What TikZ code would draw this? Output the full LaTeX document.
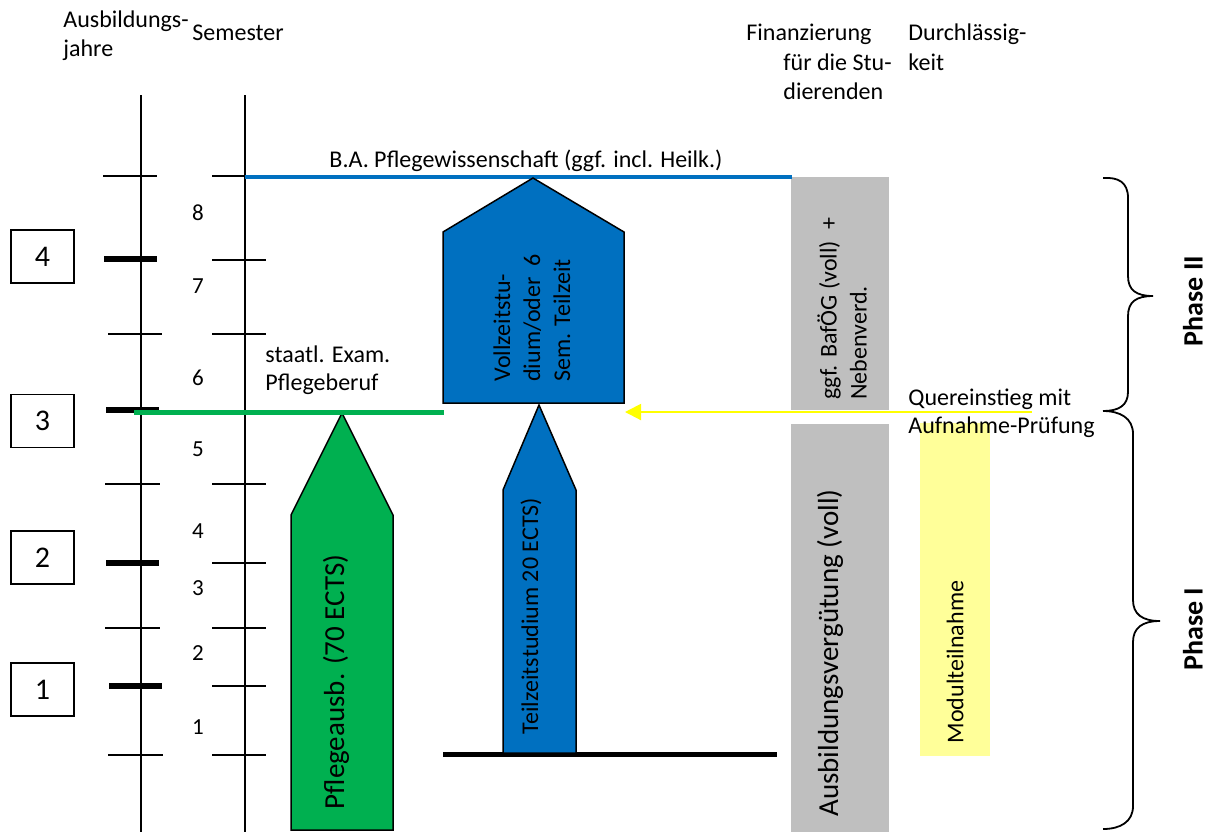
\documentclass[tikz,border=0pt]{standalone}
\usepackage{fontspec}
\setmainfont{Carlito}
\usetikzlibrary{arrows.meta}
\definecolor{bblue}{HTML}{0070C0}
\definecolor{ggreen}{HTML}{00B050}
\definecolor{ggrey}{HTML}{BFBFBF}
\definecolor{yyellow}{HTML}{FFFF00}
\definecolor{lyellow}{HTML}{FFFF99}
\begin{document}
\begin{tikzpicture}[x=0.5pt,y=-0.5pt,
  txt/.style={font=\fontsize{12}{15}\selectfont, inner sep=0pt},
  bigtxt/.style={font=\fontsize{14.5}{17}\selectfont, inner sep=0pt},
  numtxt/.style={font=\fontsize{11.5}{13}\selectfont, inner sep=0pt},
  phasetxt/.style={font=\fontsize{14}{16}\selectfont\bfseries, inner sep=0pt, rotate=90},
  yearbox/.style={draw, line width=0.75pt, minimum width=31.5pt, minimum height=26.5pt, inner sep=0pt, font=\fontsize{15}{17}\selectfont},
  axisline/.style={line width=1pt},
  thintick/.style={line width=0.75pt},
  thicktick/.style={line width=3pt},
  arrowshape/.style={draw=black, line width=0.75pt, line join=miter},
  bracepath/.style={line width=0.9pt},
  ]
\useasboundingbox (0,0) rectangle (1224,832);

% headers
\node[txt,anchor=base west] (ausb1) at (63,27) {Ausbildungs-};
\node[txt,anchor=base west] (ausb2) at (63,56) {jahre};
\node[txt,anchor=base west] (sem) at (192,40) {Semester};
\node[txt,anchor=base west] (fin1) at (746,40) {Finanzierung};
\node[txt,anchor=base west] (fin2) at (783,70) {für die Stu-};
\node[txt,anchor=base west] (fin3) at (783,99) {dierenden};
\node[txt,anchor=base west] (dur1) at (908,40) {Durchlässig-};
\node[txt,anchor=base west] (dur2) at (908,70) {keit};

% grey and yellow columns
\fill[ggrey] (791,177) rectangle (889,410);
\fill[ggrey] (791,424) rectangle (889,832);
\fill[lyellow] (920,423) rectangle (990,756);

% axes
\coordinate (yaTop) at (141,95); \coordinate (yaBot) at (141,832);
\coordinate (saTop) at (245,95); \coordinate (saBot) at (245,832);
\draw[axisline] (yaTop) -- (yaBot);
\draw[axisline] (saTop) -- (saBot);

% year ticks
\foreach \y/\a/\b in {176/103/157, 334/108/162, 484/105/160, 628/105/160, 755/108/163}
  \draw[thintick] (\a,\y) -- (\b,\y);
\foreach \y/\a/\b in {259/104/157, 410/106/159, 563/106/159, 686/109/162}
  \draw[thicktick] (\a,\y) -- (\b,\y);
% semester ticks
\draw[thintick] (212,176) -- (245,176);
\foreach \y in {260, 334, 412, 484, 563, 628, 686, 755}
  \draw[thintick] (212,\y) -- (266,\y);

% semester numbers
\foreach \n/\y in {8/213, 7/286, 6/378, 5/449, 4/531, 3/588, 2/653, 1/727}
  \node[numtxt] (s\n) at (198,\y) {\n};

% year boxes
\node[yearbox] (y4) at (42.5,256.5) {4};
\node[yearbox] (y3) at (42.5,421) {3};
\node[yearbox] (y2) at (42.5,557.5) {2};
\node[yearbox] (y1) at (42.5,689.5) {1};

% B.A. line
\coordinate (baL) at (245,177); \coordinate (baR) at (792,177);
\draw[line width=2pt, bblue] (baL) -- (baR);
\node[txt,anchor=base] (ba) at (526,167) {B.A. Pflegewissenschaft (ggf. incl. Heilk.)};

% bottom black line
\coordinate (blL) at (443,754); \coordinate (blR) at (777,754);
\draw[line width=2.5pt] (blL) -- (blR);

% shapes
\filldraw[arrowshape, fill=bblue] (443,403) -- (443,232) -- (533,178) -- (624,232) -- (624,403) -- cycle;
\filldraw[arrowshape, fill=bblue] (503,753) -- (503,490) -- (539,405) -- (576,490) -- (576,753) -- cycle;
\filldraw[arrowshape, fill=ggreen] (291,830) -- (291,515) -- (342,413) -- (393,515) -- (393,830) -- cycle;

% green line
\coordinate (glL) at (134,412); \coordinate (glR) at (444,412);
\draw[line width=2.5pt, ggreen] (glL) -- (glR);

% yellow arrow
\coordinate (yaS) at (1032,412); \coordinate (yaE) at (625,412);
\draw[line width=1pt, yyellow, -{Triangle[length=8pt,width=8pt]}] (yaS) -- (yaE);

% texts
\node[txt,anchor=base west] (ex1) at (265,362) {staatl. Exam.};
\node[txt,anchor=base west] (ex2) at (265,390) {Pflegeberuf};
\node[txt,anchor=base west] (q1) at (908,405) {Quereinstieg mit};
\node[txt,anchor=base west] (q2) at (908,433) {Aufnahme-Prüfung};

\node[txt,rotate=90,anchor=west,align=left] (voll) at (532,382) {Vollzeitstu-\\dium/oder~~6\\Sem. Teilzeit};
\node[txt,rotate=90,anchor=west,align=left] (bafoeg) at (842,400) {ggf. BafÖG (voll)~~+\\Nebenverd.};
\node[txt,rotate=90] (teil) at (531,616) {Teilzeitstudium 20 ECTS)};
\node[bigtxt,rotate=90] (pfl) at (336,682) {Pflegeausb. (70 ECTS)};
\node[bigtxt,rotate=90] (verg) at (830,653) {Ausbildungsvergütung (voll)};
\node[txt,rotate=90] (mod) at (955,662) {Modulteilnahme};

% braces
\draw[bracepath] (1103,178) .. controls (1118,177) and (1128,182) .. (1128,198) -- (1128,276)
  .. controls (1128,290) and (1136,296) .. (1153,296)
  .. controls (1136,296) and (1128,302) .. (1128,316) -- (1128,392)
  .. controls (1128,406) and (1118,411) .. (1103,411);
\draw[bracepath] (1103,411) .. controls (1120,411) and (1133,418) .. (1133,434) -- (1133,600)
  .. controls (1133,614) and (1142,621) .. (1160,621)
  .. controls (1142,621) and (1133,628) .. (1133,642) -- (1133,806)
  .. controls (1133,822) and (1120,829) .. (1103,829);

\node[phasetxt] (p2) at (1193,301) {Phase II};
\node[phasetxt] (p1) at (1193,629) {Phase I};
\end{tikzpicture}
\end{document}
